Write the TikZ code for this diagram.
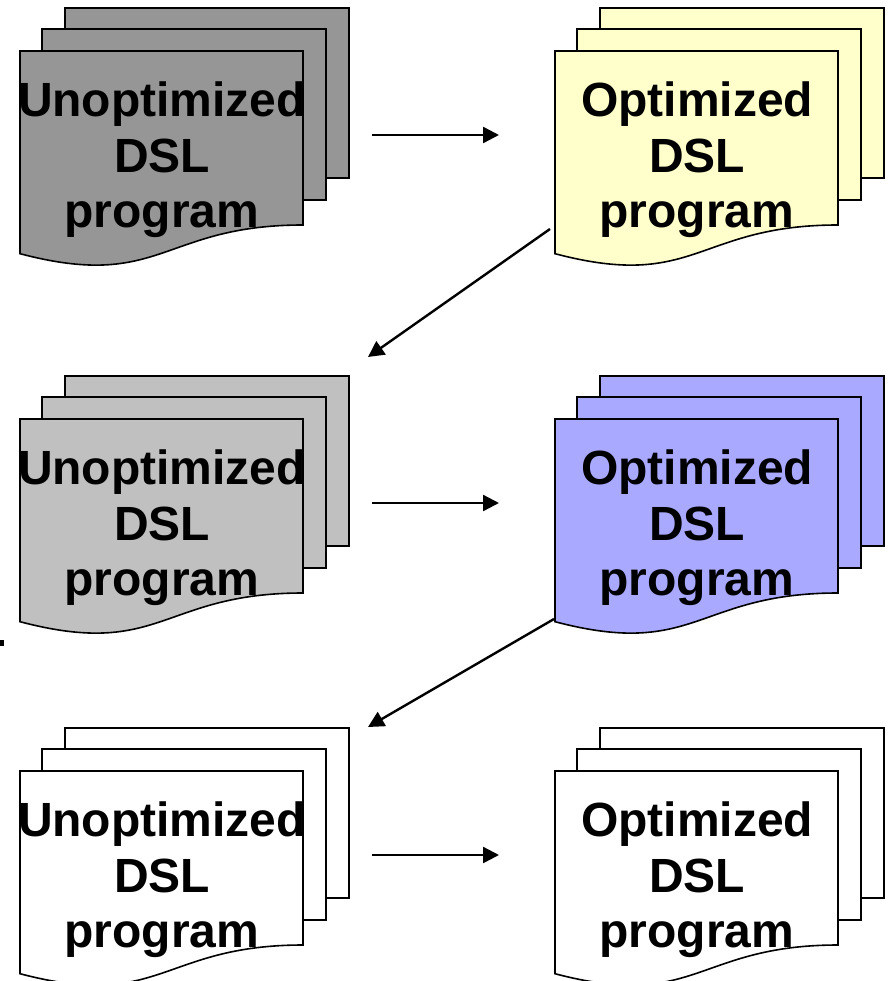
\documentclass[tikz,border=0pt]{standalone}
\usepackage{fontspec}
\setmainfont{Liberation Sans}
\usepackage{xcolor}
\usepackage{tikz}
\usetikzlibrary{arrows.meta}

\definecolor{darkgr}{HTML}{969696}
\definecolor{lightgr}{HTML}{C0C0C0}
\definecolor{paleyel}{HTML}{FFFFCC}
\definecolor{lavend}{HTML}{A9A9FF}

\tikzset{
  sheet/.style={draw=black, line width=1.6pt, line join=miter},
  doclabel/.style={align=center, inner sep=0pt,
    font=\fontsize{48}{55.5}\selectfont\bfseries},
  arr/.style={line width=2.4pt, -{Triangle[length=16pt,width=16pt]}}
}

% stack of three sheets: name, x, y (front top-left), fill, text
\newcommand{\docstack}[5]{%
  \begin{scope}[shift={(#2,#3)}]
    \draw[sheet, fill=#4] (45,-43) rectangle (329,127);
    \draw[sheet, fill=#4] (22,-22) rectangle (306,149);
    \draw[sheet, fill=#4] (0,0) -- (283,0) -- (283,174)
      .. controls (141.5,174) and (141.5,240) .. (0,202.7) -- cycle;
    \node[doclabel] (#1) at (142,109) {#5};
  \end{scope}}

\begin{document}
\begin{tikzpicture}[x=1pt, y=-1pt]
    \useasboundingbox (0,0) rectangle (890,981);

    % Documents
    \docstack{u1}{20}{51}{darkgr}{Unoptimized\\DSL\\program}
    \docstack{o1}{555}{51}{paleyel}{Optimized\\DSL\\program}
    \docstack{u2}{20}{419}{lightgr}{Unoptimized\\DSL\\program}
    \docstack{o2}{555}{419}{lavend}{Optimized\\DSL\\program}
    \docstack{u3}{20}{771}{white}{Unoptimized\\DSL\\program}
    \docstack{o3}{555}{771}{white}{Optimized\\DSL\\program}

    % Arrow ends
    \coordinate (u1r) at (372,135);
    \coordinate (o1l) at (499,135);
    \coordinate (o1d) at (550,229);
    \coordinate (u2t) at (368,357);
    \coordinate (u2r) at (372,503);
    \coordinate (o2l) at (499,503);
    \coordinate (o2d) at (554,619);
    \coordinate (u3t) at (368,727);
    \coordinate (u3r) at (372,855);
    \coordinate (o3l) at (499,855);

    % Arrows
    \draw[arr] (u1r) -- (o1l);
    \draw[arr] (o1d) -- (u2t);
    \draw[arr] (u2r) -- (o2l);
    \draw[arr] (o2d) -- (u3t);
    \draw[arr] (u3r) -- (o3l);

    % Mark at left edge
    \fill (0,640) rectangle (4,646);
\end{tikzpicture}
\end{document}
